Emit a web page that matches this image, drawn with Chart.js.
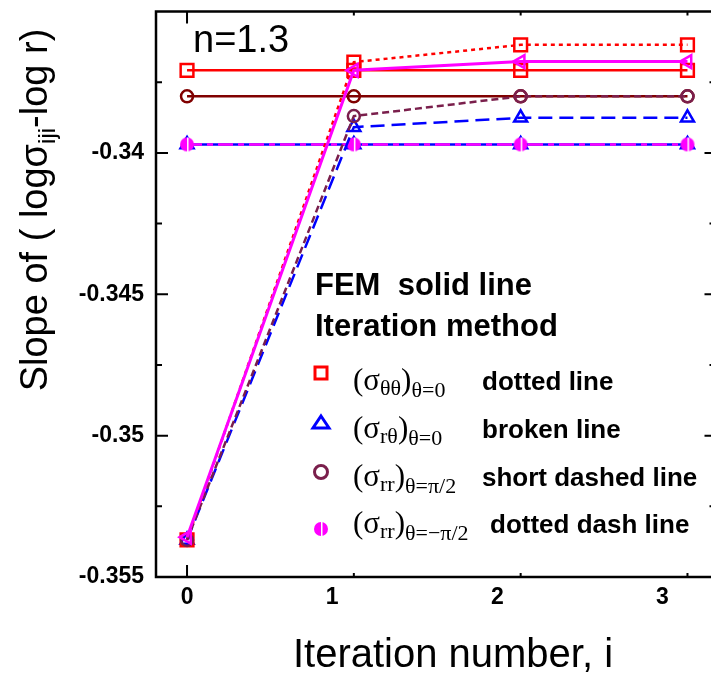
<!DOCTYPE html>
<html>
<head>
<meta charset="utf-8">
<script src="https://cdn.jsdelivr.net/npm/chart.js@4.4.1/dist/chart.umd.min.js"></script>
<style>
  html, body { margin: 0; padding: 0; background: #fff; overflow: hidden; }
  canvas { display: block; }
</style>
</head>
<body>
<canvas id="slopeChart" width="726" height="674"></canvas>
<script>
// Data
const iterations = [0, 1, 2, 3];
const xTickLabels = ['0', '1', '2', '3'];
const xLabelPos = [0, 0.87, 1.86, 2.85];
const yTickValues = [-0.355, -0.35, -0.345, -0.34];
const yTickLabels = ['-0.355', '-0.35', '-0.345', '-0.34'];
const yMinorTicks = [-0.3525, -0.3475, -0.3425, -0.3375];

// FEM (solid lines)
const femThetaTheta = [-0.33708, -0.33708, -0.33708, -0.33708];
const femRTheta = [-0.3397, -0.3397, -0.3397, -0.3397];
const femRrHalfPi = [-0.338, -0.338, -0.338, -0.338];
const femRrMinusHalfPi = [-0.3397, -0.3397, -0.3397, -0.3397];
// Iteration method
const iterThetaTheta = [-0.35369, -0.33679, -0.33618, -0.33618];
const iterRTheta = [-0.35369, -0.33909, -0.33876, -0.33876];
const iterRrHalfPi = [-0.35369, -0.3387, -0.338, -0.338];
const iterRrMinusHalfPi = [-0.35359, -0.33708, -0.33677, -0.33677];

const RED = '#ff0000', BLUE = '#0000ff', BROWN = '#800000', MAROON = '#7a1f4c', MAGENTA = '#ff00ff';
const SANS = '"Liberation Sans", Arial, sans-serif';
const SERIF = '"Liberation Serif", "Times New Roman", serif';

function pts(arr) {
    return iterations.map((x, i) => ({ x: x, y: arr[i] }));
}

// half filled dot marker
function halfDot() {
    const c = document.createElement('canvas');
    c.width = 16; c.height = 16;
    const g = c.getContext('2d');
    g.fillStyle = MAGENTA;
    g.beginPath();
    g.arc(8, 8, 7, 0, Math.PI * 2);
    g.fill();
    g.fillStyle = '#fff';
    g.fillRect(8, 1, 1.5, 14);
    return c;
}
const halfDotImg = halfDot();

function series(data, color, dash, style, radius, order, extra) {
    return Object.assign({
        data: pts(data),
        borderColor: color,
        backgroundColor: 'transparent',
        borderWidth: 2.5,
        borderDash: dash,
        pointStyle: style,
        pointRadius: radius,
        pointBorderColor: color,
        pointBackgroundColor: 'transparent',
        pointBorderWidth: 2.5,
        tension: 0,
        order: order
    }, extra || {});
}

const datasets = [
    series(femRTheta, BLUE, [], 'triangle', 7.5, 20),
    series(femThetaTheta, RED, [], 'rect', 9, 19),
    series(femRrHalfPi, BROWN, [], 'circle', 6, 18),
    series(femRrMinusHalfPi, MAGENTA, [15, 5, 6, 5], halfDotImg, 8, 17),
    series(iterThetaTheta, RED, [4, 4], 'rect', 9, 5),
    series(iterRTheta, BLUE, [14, 7], 'triangle', 7.5, 6),
    series(iterRrHalfPi, MAROON, [7, 4], 'circle', 6, 4),
    series(iterRrMinusHalfPi, MAGENTA, [], 'triangle', 7.5, 2, { pointRotation: -90, borderWidth: 3 })
];

function drawMarker(ctx, kind, x, y) {
    ctx.save();
    ctx.lineWidth = 3;
    if (kind === 'square') {
        ctx.strokeStyle = RED;
        ctx.strokeRect(x - 6, y - 6, 12, 12);
    } else if (kind === 'triangle') {
        ctx.strokeStyle = BLUE;
        ctx.beginPath();
        ctx.moveTo(x, y - 7);
        ctx.lineTo(x + 8, y + 5);
        ctx.lineTo(x - 8, y + 5);
        ctx.closePath();
        ctx.stroke();
    } else if (kind === 'circle') {
        ctx.strokeStyle = MAROON;
        ctx.beginPath();
        ctx.arc(x, y, 6.5, 0, Math.PI * 2);
        ctx.stroke();
    } else {
        ctx.drawImage(halfDotImg, x - 8, y - 8);
    }
    ctx.restore();
}

// (σ_sub)_cond in serif type
function drawSigma(ctx, x, base, sub, cond) {
    ctx.font = '31px ' + SERIF;
    ctx.fillText('(\u03c3', x, base);
    x += ctx.measureText('(\u03c3').width;
    ctx.font = '22px ' + SERIF;
    ctx.fillText(sub, x, base + 5);
    x += ctx.measureText(sub).width;
    ctx.font = '31px ' + SERIF;
    ctx.fillText(')', x, base);
    x += ctx.measureText(')').width;
    ctx.font = '22px ' + SERIF;
    ctx.fillText(cond, x, base + 7);
}

const legendRows = [
    { marker: 'square', my: 373, base: 390, sub: '\u03b8\u03b8', cond: '\u03b8=0', text: 'dotted line', tx: 482 },
    { marker: 'triangle', my: 423, base: 438, sub: 'r\u03b8', cond: '\u03b8=0', text: 'broken line', tx: 482 },
    { marker: 'circle', my: 472, base: 486, sub: 'rr', cond: '\u03b8=\u03c0/2', text: 'short dashed line', tx: 482 },
    { marker: 'half', my: 529, base: 533, sub: 'rr', cond: '\u03b8=\u2212\u03c0/2', text: 'dotted dash line', tx: 490 }
];

const framePlugin = {
    id: 'frame',
    afterDraw(chart) {
        const ctx = chart.ctx;
        const a = chart.chartArea;
        const x = chart.scales.x, y = chart.scales.y;
        ctx.save();
        ctx.strokeStyle = '#000';
        ctx.lineWidth = 2.5;
        ctx.strokeRect(a.left, a.top, a.right - a.left, a.bottom - a.top);

        // tick marks, pointing inward
        ctx.lineWidth = 2;
        ctx.beginPath();
        iterations.forEach((v, i) => {
            const px = x.getPixelForValue(v);
            const len = i === 0 ? 12 : 4;
            ctx.moveTo(px, a.bottom); ctx.lineTo(px, a.bottom - len);
            ctx.moveTo(px, a.top); ctx.lineTo(px, a.top + len);
        });
        yTickValues.forEach(v => {
            const py = y.getPixelForValue(v);
            ctx.moveTo(a.left, py); ctx.lineTo(a.left + 12, py);
            ctx.moveTo(a.right, py); ctx.lineTo(a.right - 10, py);
        });
        yMinorTicks.forEach(v => {
            const py = y.getPixelForValue(v);
            ctx.moveTo(a.left, py); ctx.lineTo(a.left + 6, py);
            ctx.moveTo(a.right, py); ctx.lineTo(a.right - 5, py);
        });
        ctx.stroke();

        ctx.fillStyle = '#000';
        ctx.textBaseline = 'alphabetic';

        // panel label
        ctx.font = '38px ' + SANS;
        ctx.textAlign = 'left';
        ctx.fillText('n=1.3', 193, 52);

        // x axis title
        ctx.font = '40px ' + SANS;
        ctx.textAlign = 'center';
        ctx.fillText('Iteration number, i', 453, 667);

        // y axis title with subscript
        ctx.save();
        ctx.translate(47, 210);
        ctx.rotate(-Math.PI / 2);
        ctx.textAlign = 'left';
        const p1 = 'Slope of ( log\u03c3', sub = 'iji', p2 = '-log r)';
        ctx.font = '38px ' + SANS;
        const w1 = ctx.measureText(p1).width, w3 = ctx.measureText(p2).width;
        ctx.font = '24px ' + SANS;
        const w2 = ctx.measureText(sub).width;
        let sx = -(w1 + w2 + w3) / 2;
        ctx.font = '38px ' + SANS;
        ctx.fillText(p1, sx, 0);
        ctx.font = '24px ' + SANS;
        ctx.fillText(sub, sx + w1, 8);
        ctx.font = '38px ' + SANS;
        ctx.fillText(p2, sx + w1 + w2, 0);
        ctx.restore();

        // legend block
        ctx.textAlign = 'left';
        ctx.font = 'bold 31px ' + SANS;
        ctx.fillText('FEM  solid line', 315, 295);
        ctx.fillText('Iteration method', 315, 336);
        legendRows.forEach(r => {
            drawMarker(ctx, r.marker, 321, r.my);
            ctx.fillStyle = '#000';
            drawSigma(ctx, 353, r.base, r.sub, r.cond);
            ctx.font = 'bold 26px ' + SANS;
            ctx.fillText(r.text, r.tx, r.base);
        });
        ctx.restore();
    }
};

const ctx = document.getElementById('slopeChart').getContext('2d');
const slopeChart = new Chart(ctx, {
    type: 'line',
    data: { datasets: datasets },
    options: {
        responsive: false,
        animation: false,
        devicePixelRatio: 1,
        layout: { padding: { top: 11, right: 2, left: 0, bottom: 0 } },
        plugins: {
            legend: { display: false },
            tooltip: { enabled: false }
        },
        scales: {
            x: {
                type: 'linear',
                min: -0.186,
                max: 3.162,
                border: { display: false },
                grid: { display: false, drawTicks: false },
                afterBuildTicks: function(scale) {
                    scale.ticks = xLabelPos.map(v => ({ value: v }));
                },
                afterFit: function(scale) {
                    scale.height = 97;
                    scale.paddingLeft = 0;
                    scale.paddingRight = 0;
                },
                ticks: {
                    autoSkip: false,
                    maxRotation: 0,
                    padding: 7,
                    color: '#000',
                    font: { family: SANS, size: 23, weight: 'bold' },
                    callback: function(value, index) { return xTickLabels[index]; }
                }
            },
            y: {
                min: -0.355,
                max: -0.335,
                border: { display: false },
                grid: { display: false, drawTicks: false },
                afterBuildTicks: function(scale) {
                    scale.ticks = yTickValues.map(v => ({ value: v }));
                },
                afterFit: function(scale) {
                    scale.width = 156;
                    scale.paddingTop = 0;
                    scale.paddingBottom = 0;
                },
                ticks: {
                    autoSkip: false,
                    padding: 12,
                    color: '#000',
                    font: { family: SANS, size: 23, weight: 'bold' },
                    callback: function(value, index) { return yTickLabels[index]; }
                }
            }
        }
    },
    plugins: [framePlugin]
});
</script>
</body>
</html>
